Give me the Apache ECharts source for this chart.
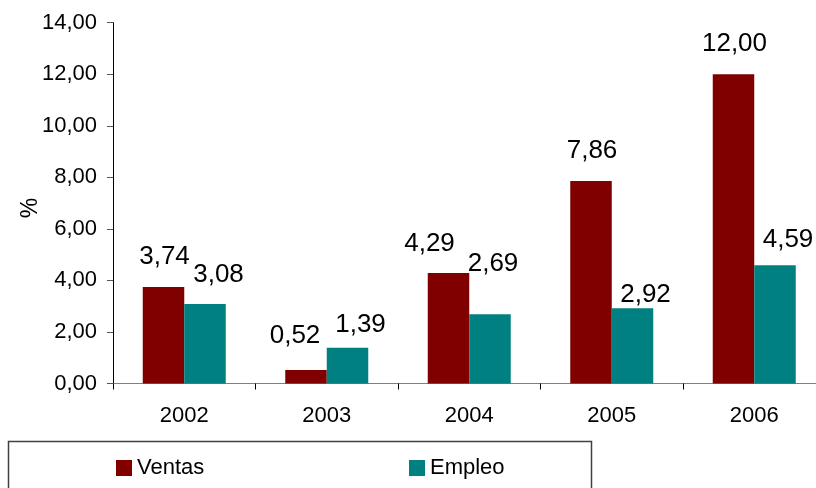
<!DOCTYPE html>
<html>
<head>
<meta charset="utf-8">
<script src="https://cdn.jsdelivr.net/npm/echarts@6/dist/echarts.min.js"></script>
<style>
  html, body { margin: 0; padding: 0; background: #ffffff; }
  #chart { width: 816px; height: 488px; }
</style>
</head>
<body>
<div id="chart"></div>
<script>
// Annual growth of sales and employment (%)
const years = ['2002', '2003', '2004', '2005', '2006'];
const ventas = [3.74, 0.52, 4.29, 7.86, 12.00];
const empleo = [3.08, 1.39, 2.69, 2.92, 4.59];
const yTicks = { min: 0, max: 14, step: 2 };

// Hand-placed value labels: lift above bar top and sideways shift (px)
const ventasLabelLift = [30, 34, 29, 30, 30];
const ventasLabelShift = [1, -11, -19, 1, 1];
const empleoLabelLift = [29.5, 22.7, 50, 13, 25.7];
const empleoLabelShift = [13.5, 13, 3, 13, 13];

const FONT = "'Liberation Sans', Arial, sans-serif";
const comma2 = v => Number(v).toFixed(2).replace('.', ',');

function withLabels(values, lifts, shifts) {
  return values.map((v, i) => ({
    value: v,
    label: {
      position: ['50%', -lifts[i]],
      offset: [shifts[i], 0]
    }
  }));
}

const valueLabel = {
  show: true,
  align: 'center',
  verticalAlign: 'middle',
  color: '#000',
  fontFamily: FONT,
  fontSize: 26,
  formatter: p => comma2(p.value)
};

const chart = echarts.init(document.getElementById('chart'), null, { renderer: 'canvas' });
chart.setOption({
  animation: false,
  backgroundColor: '#ffffff',
  textStyle: { fontFamily: FONT },
  grid: {
    left: 113, top: 22.7, bottom: 104.5, width: 712.5,
    containLabel: false, outerBoundsMode: 'none'
  },
  xAxis: {
    type: 'category',
    data: years,
    boundaryGap: true,
    axisLine: { lineStyle: { color: '#808080', width: 1 } },
    axisTick: { show: true, length: 6, lineStyle: { color: '#000' } },
    axisLabel: { color: '#000', fontSize: 22, margin: 21, fontFamily: FONT }
  },
  yAxis: {
    type: 'value',
    min: yTicks.min,
    max: yTicks.max,
    interval: yTicks.step,
    splitLine: { show: false },
    axisLine: { show: true, lineStyle: { color: '#000', width: 1 } },
    axisTick: { show: true, length: 6, lineStyle: { color: '#555' } },
    axisLabel: { color: '#000', fontSize: 22, margin: 16, fontFamily: FONT, formatter: comma2 }
  },
  legend: [
    {
      data: ['Ventas'], left: 111, top: 452, itemWidth: 16, itemHeight: 16, itemGap: 0,
      icon: 'rect', textStyle: { fontSize: 22, color: '#000', fontFamily: FONT }
    },
    {
      data: ['Empleo'], left: 404, top: 452, itemWidth: 16, itemHeight: 16, itemGap: 0,
      icon: 'rect', textStyle: { fontSize: 22, color: '#000', fontFamily: FONT }
    }
  ],
  graphic: [
    {
      type: 'rect',
      shape: { x: 8.5, y: 441.5, width: 583, height: 70 },
      style: { fill: 'none', stroke: '#404040', lineWidth: 1.5 },
      z: 0
    },
    {
      type: 'text',
      x: 31, y: 208,
      rotation: Math.PI / 2,
      style: {
        text: '%', fill: '#000', font: '23px ' + FONT,
        align: 'center', verticalAlign: 'middle'
      }
    }
  ],
  series: [
    {
      name: 'Ventas',
      type: 'bar',
      barWidth: 41.5,
      barGap: '0%',
      itemStyle: { color: '#800000' },
      label: valueLabel,
      data: withLabels(ventas, ventasLabelLift, ventasLabelShift)
    },
    {
      name: 'Empleo',
      type: 'bar',
      barWidth: 41.5,
      barGap: '0%',
      itemStyle: { color: '#008080' },
      label: valueLabel,
      data: withLabels(empleo, empleoLabelLift, empleoLabelShift)
    }
  ]
});
</script>
</body>
</html>
